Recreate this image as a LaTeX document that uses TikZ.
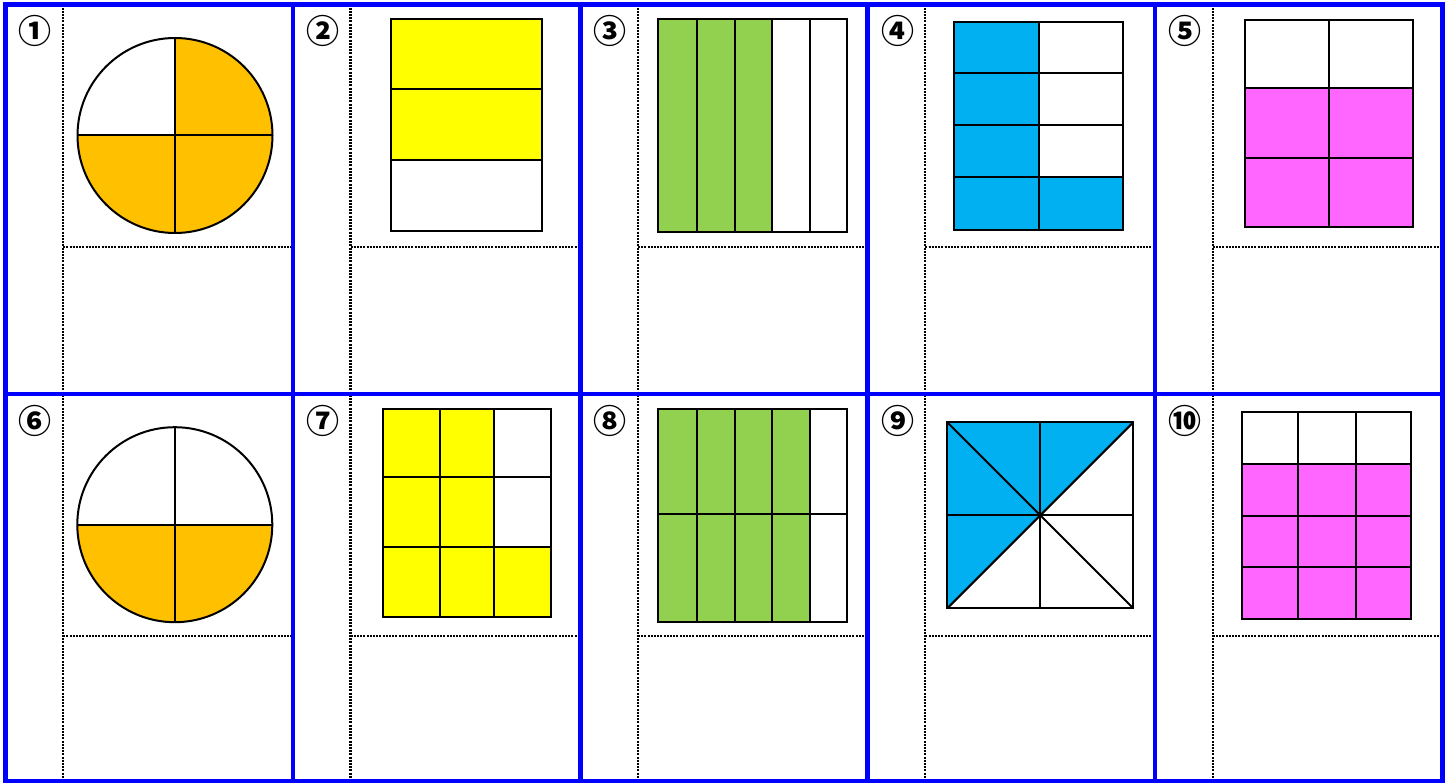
\documentclass[tikz,border=0pt]{standalone}
\usepackage{fontspec}
\newfontfamily\cjk{Noto Sans CJK JP}
\definecolor{frameblue}{HTML}{0000FF}
\definecolor{orng}{HTML}{FFC000}
\definecolor{ylw}{HTML}{FFFF00}
\definecolor{grn}{HTML}{92D050}
\definecolor{skyblue}{HTML}{00B0F0}
\definecolor{mgnt}{HTML}{FF66FF}
\tikzset{
  frm/.style={draw=frameblue,line width=4.5pt},
  guide/.style={draw=black,line width=2.2pt,dash pattern=on 2pt off 1.2pt},
  part/.style={draw=black,line width=2pt},
  numlbl/.style={font=\cjk\bfseries\fontsize{33}{33}\selectfont,inner sep=0pt},
  pie/.style={part,radius=97.5pt}
}

\begin{document}
\begin{tikzpicture}[x=1pt,y=-1pt]
  \useasboundingbox (0,0) rectangle (1449,783);

  % dotted guides in each cell
  \foreach \c [evaluate=\c as \xl using 5.5+287.4*\c] in {0,...,4}{
    \draw[guide] (\xl+57.6,4.5) -- (\xl+57.6,781.5);
    \draw[guide] (\xl+57.6,246.7) -- (\xl+287.4,246.7);
    \draw[guide] (\xl+57.6,636) -- (\xl+287.4,636);
  }

  % numbers
  \foreach \lbl [count=\i from 0] in {①,②,③,④,⑤}
    \node[numlbl] (num\i) at (35.5+287.4*\i,31) {\lbl};
  \foreach \lbl [count=\i from 5] in {⑥,⑦,⑧,⑨,⑩}
    \node[numlbl] (num\i) at (35.5+287.4*\i-1437,420.5) {\lbl};

  % 1: circle, 3 quarters
  \coordinate (c1) at (175,135.5);
  \begin{scope}
    \clip (c1) circle[radius=97.5pt];
    \fill[orng] (c1) ++(-100,0) rectangle ++(200,100);
    \fill[orng] (c1) rectangle ++(100,-100);
  \end{scope}
  \draw[pie] (c1) circle[radius=97.5pt];
  \draw[part] (c1) ++(-97.5,0) -- ++(195,0);
  \draw[part] (c1) ++(0,-97.5) -- ++(0,195);

  % 2: three rows
  \fill[ylw] (390.7,19.3) rectangle (542.3,160);
  \draw[part] (390.7,19.3) rectangle (542.3,230.7);
  \foreach \y in {88.7,160} \draw[part] (390.7,\y) -- (542.3,\y);

  % 3: five columns
  \fill[grn] (658.3,19.3) rectangle (771.7,232);
  \draw[part] (658.3,19.3) rectangle (847,232);
  \foreach \x in {696.7,734.7,771.7,809.7} \draw[part] (\x,19.3) -- (\x,232);

  % 4: two by four
  \fill[skyblue] (954.3,22) rectangle (1039,229.7);
  \fill[skyblue] (1039,177) rectangle (1123,229.7);
  \draw[part] (954.3,22) rectangle (1123,229.7);
  \draw[part] (1039,22) -- (1039,229.7);
  \foreach \y in {73,125.5,177} \draw[part] (954.3,\y) -- (1123,\y);

  % 5: two by three
  \fill[mgnt] (1245.3,87.7) rectangle (1413.3,227);
  \draw[part] (1245.3,19.7) rectangle (1413.3,227);
  \draw[part] (1329.3,19.7) -- (1329.3,227);
  \foreach \y in {87.7,158.3} \draw[part] (1245.3,\y) -- (1413.3,\y);

  % 6: circle, lower half
  \coordinate (c6) at (174.8,524.7);
  \begin{scope}
    \clip (c6) circle[radius=97.5pt];
    \fill[orng] (c6) ++(-100,0) rectangle ++(200,100);
  \end{scope}
  \draw[pie] (c6) circle[radius=97.5pt];
  \draw[part] (c6) ++(-97.5,0) -- ++(195,0);
  \draw[part] (c6) ++(0,-97.5) -- ++(0,195);

  % 7: three by three
  \fill[ylw] (383.3,409) rectangle (494.3,616.7);
  \fill[ylw] (494.3,547.3) rectangle (551,616.7);
  \draw[part] (383.3,409) rectangle (551,616.7);
  \foreach \x in {440,494.3} \draw[part] (\x,409) -- (\x,616.7);
  \foreach \y in {477.3,547.3} \draw[part] (383.3,\y) -- (551,\y);

  % 8: five by two
  \fill[grn] (658.3,409) rectangle (810,622);
  \draw[part] (658.3,409) rectangle (847.3,622);
  \foreach \x in {696.7,734.7,772,810} \draw[part] (\x,409) -- (\x,622);
  \draw[part] (658.3,514.3) -- (847.3,514.3);

  % 9: square in eighths
  \fill[skyblue] (947.3,422.3) -- (1133.3,422.3) -- (947.3,608.3) -- cycle;
  \draw[part] (947.3,422.3) rectangle (1133.3,608.3);
  \draw[part] (1040.3,422.3) -- (1040.3,608.3);
  \draw[part] (947.3,515.3) -- (1133.3,515.3);
  \draw[part] (947.3,422.3) -- (1133.3,608.3);
  \draw[part] (1133.3,422.3) -- (947.3,608.3);

  % 10: three by four
  \fill[mgnt] (1242.3,464) rectangle (1410.7,619);
  \draw[part] (1242.3,411.7) rectangle (1410.7,619);
  \foreach \x in {1298,1355.7} \draw[part] (\x,411.7) -- (\x,619);
  \foreach \y in {464,516,566.7} \draw[part] (1242.3,\y) -- (1410.7,\y);

  % blue frame
  \draw[frm] (5.5,4.5) rectangle (1442.5,781.5);
  \draw[frm] (5.5,394) -- (1442.5,394);
  \foreach \c in {1,...,4} \draw[frm] (5.5+287.4*\c,4.5) -- (5.5+287.4*\c,781.5);
\end{tikzpicture}
\end{document}
